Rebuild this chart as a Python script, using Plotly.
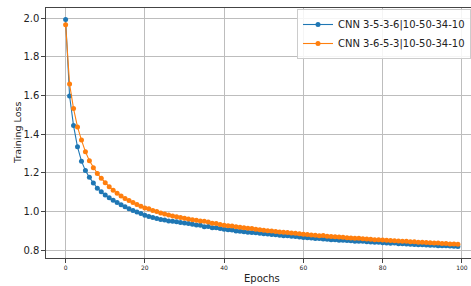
import plotly.graph_objects as go

epochs = list(range(100))

loss_a = [1.992, 1.597, 1.444, 1.334, 1.260, 1.211, 1.176, 1.147, 1.120, 1.101,
          1.085, 1.071, 1.058, 1.046, 1.035, 1.024, 1.014, 1.005, 0.997, 0.989,
          0.980, 0.974, 0.969, 0.963, 0.958, 0.955, 0.951, 0.949, 0.946, 0.943,
          0.940, 0.937, 0.934, 0.930, 0.929, 0.921, 0.922, 0.916, 0.915, 0.912,
          0.908, 0.905, 0.904, 0.899, 0.897, 0.895, 0.892, 0.891, 0.889, 0.887,
          0.884, 0.883, 0.880, 0.879, 0.877, 0.874, 0.874, 0.871, 0.870, 0.867,
          0.865, 0.864, 0.862, 0.860, 0.860, 0.857, 0.856, 0.854, 0.853, 0.851,
          0.851, 0.849, 0.848, 0.846, 0.845, 0.845, 0.843, 0.842, 0.840, 0.840,
          0.838, 0.837, 0.835, 0.836, 0.833, 0.833, 0.831, 0.830, 0.829, 0.828,
          0.828, 0.826, 0.825, 0.825, 0.823, 0.823, 0.822, 0.821, 0.820, 0.819]

loss_b = [1.966, 1.659, 1.532, 1.437, 1.369, 1.309, 1.262, 1.226, 1.196, 1.171,
          1.148, 1.128, 1.109, 1.094, 1.080, 1.067, 1.056, 1.046, 1.036, 1.027,
          1.018, 1.014, 1.005, 0.999, 0.992, 0.987, 0.982, 0.976, 0.972, 0.968,
          0.964, 0.961, 0.957, 0.954, 0.950, 0.949, 0.945, 0.939, 0.937, 0.932,
          0.929, 0.926, 0.925, 0.921, 0.918, 0.915, 0.913, 0.911, 0.908, 0.905,
          0.903, 0.900, 0.899, 0.896, 0.894, 0.892, 0.891, 0.888, 0.887, 0.884,
          0.882, 0.880, 0.878, 0.877, 0.874, 0.875, 0.872, 0.870, 0.869, 0.867,
          0.866, 0.864, 0.863, 0.861, 0.861, 0.858, 0.857, 0.856, 0.854, 0.853,
          0.852, 0.851, 0.849, 0.848, 0.847, 0.846, 0.845, 0.843, 0.843, 0.841,
          0.840, 0.839, 0.838, 0.836, 0.836, 0.834, 0.834, 0.832, 0.831, 0.830]

series_names = ["CNN 3-5-3-6|10-50-34-10", "CNN 3-6-5-3|10-50-34-10"]
series_colors = ["#1f77b4", "#ff7f0e"]

x_ticks = [0, 20, 40, 60, 80, 100]
y_ticks = [0.8, 1.0, 1.2, 1.4, 1.6, 1.8, 2.0]
y_tick_labels = ["0.8", "1.0", "1.2", "1.4", "1.6", "1.8", "2.0"]

FONT = "DejaVu Sans"

fig = go.Figure()
for vals, name, col in zip([loss_a, loss_b], series_names, series_colors):
    fig.add_trace(go.Scatter(
        x=epochs, y=vals, name=name, mode="lines+markers",
        line=dict(color=col, width=1.1),
        marker=dict(color=col, size=5),
    ))

fig.update_layout(
    width=471, height=286,
    margin=dict(l=46, r=0, t=8, b=28),
    paper_bgcolor="white", plot_bgcolor="white",
    font=dict(family=FONT, color="#222"),
    showlegend=True,
    legend=dict(
        x=(297 - 46) / 425, y=0.996, xanchor="left", yanchor="top",
        bgcolor="rgba(255,255,255,0.85)", bordercolor="#cccccc", borderwidth=1,
        font=dict(family=FONT, size=10, color="#222"),
        itemwidth=30, tracegroupgap=0,
    ),
    xaxis=dict(
        range=[-4.95, 102.3], tickvals=x_ticks,
        showgrid=True, gridcolor="#bdbdbd", gridwidth=1,
        zeroline=False, showline=True, linecolor="#444", linewidth=1.2,
        mirror=True, ticks="outside", ticklen=3.5, tickcolor="#444",
        tickfont=dict(family=FONT, size=6, color="#222"),
    ),
    yaxis=dict(
        range=[0.759, 2.052], tickvals=y_ticks, ticktext=y_tick_labels,
        showgrid=True, gridcolor="#bdbdbd", gridwidth=1,
        zeroline=False, showline=True, linecolor="#444", linewidth=1.2,
        mirror=False, ticks="outside", ticklen=3.5, tickcolor="#444",
        tickfont=dict(family=FONT, size=10, color="#222"),
    ),
    annotations=[
        dict(text="Epochs", xref="paper", yref="paper", x=(262 - 46) / 425,
             y=-(271 - 258) / 250,
             xanchor="center", yanchor="top", showarrow=False,
             font=dict(family=FONT, size=10, color="#222")),
        dict(text="Training Loss", xref="paper", yref="paper", x=(17 - 46) / 425, y=0.5,
             xanchor="center", yanchor="middle", textangle=-90, showarrow=False,
             font=dict(family=FONT, size=9.5, color="#222")),
    ],
)

fig.write_html("out.html",
               config={"displayModeBar": False},
               post_script="document.body.style.margin='0';document.body.style.overflow='hidden';")
